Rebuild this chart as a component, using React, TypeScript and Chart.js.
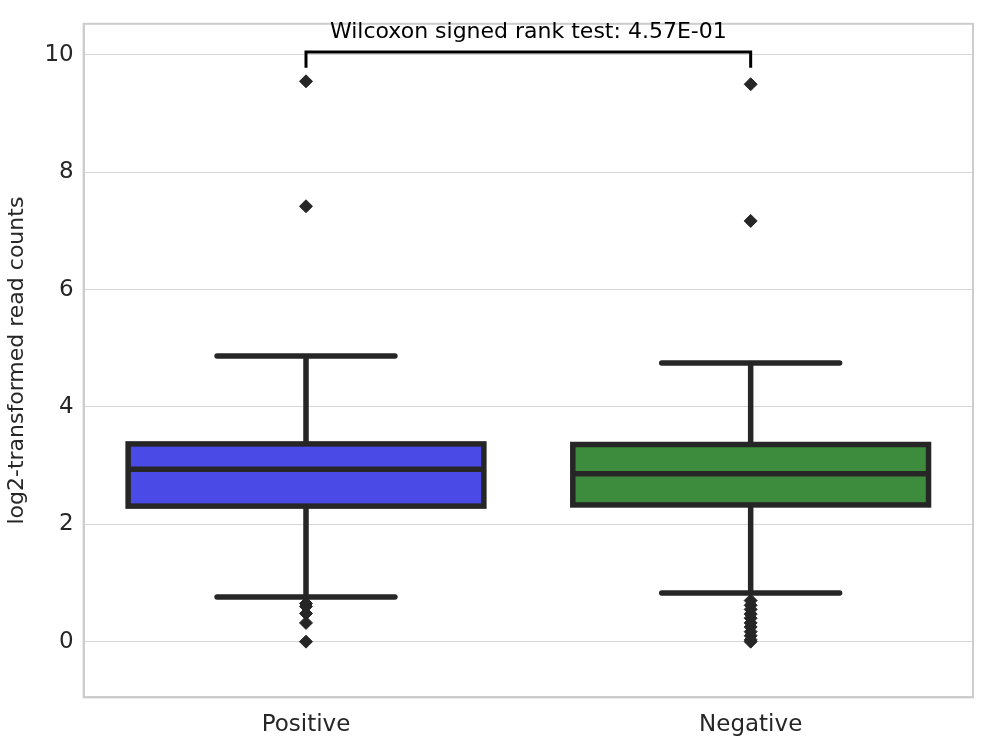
import { useEffect, useRef } from "react";
import { Chart, registerables } from "chart.js";

Chart.register(...registerables);

const groups = ["Positive", "Negative"];
const boxColors = ["#4a4ae6", "#3d8c3d"];
const q1 = [2.31, 2.33];
const median = [2.94, 2.86];
const q3 = [3.37, 3.36];
const whiskerLow = [0.76, 0.83];
const whiskerHigh = [4.87, 4.75];
const outliersPositive = [9.55, 7.42, 0.65, 0.6, 0.48, 0.32, 0.0];
const outliersNegative = [9.5, 7.17, 0.7, 0.62, 0.55, 0.47, 0.4, 0.32, 0.25, 0.17, 0.1, 0.03, 0.0];
const yTicks = [0, 2, 4, 6, 8, 10];
const testLabel = "Wilcoxon signed rank test: 4.57E-01";

const dark = "#262626";

const boxPlugin = {
  id: "boxes",
  beforeDatasetsDraw(chart: Chart) {
    const { ctx, scales } = chart;
    const x = scales.x;
    const y = scales.y;
    ctx.save();
    ctx.strokeStyle = dark;
    ctx.lineWidth = 5.5;
    ctx.lineCap = "round";
    groups.forEach((_, i) => {
      const xl = x.getPixelForValue(i - 0.4);
      const xr = x.getPixelForValue(i + 0.4);
      const xc = x.getPixelForValue(i);
      const cl = x.getPixelForValue(i - 0.2);
      const cr = x.getPixelForValue(i + 0.2);
      // whiskers
      ctx.beginPath();
      ctx.moveTo(xc, y.getPixelForValue(whiskerLow[i]));
      ctx.lineTo(xc, y.getPixelForValue(q1[i]));
      ctx.moveTo(xc, y.getPixelForValue(q3[i]));
      ctx.lineTo(xc, y.getPixelForValue(whiskerHigh[i]));
      ctx.moveTo(cl, y.getPixelForValue(whiskerLow[i]));
      ctx.lineTo(cr, y.getPixelForValue(whiskerLow[i]));
      ctx.moveTo(cl, y.getPixelForValue(whiskerHigh[i]));
      ctx.lineTo(cr, y.getPixelForValue(whiskerHigh[i]));
      ctx.stroke();
      // box
      const top = y.getPixelForValue(q3[i]);
      const bot = y.getPixelForValue(q1[i]);
      ctx.fillStyle = boxColors[i];
      ctx.lineCap = "butt";
      ctx.fillRect(xl, top, xr - xl, bot - top);
      ctx.strokeRect(xl, top, xr - xl, bot - top);
      ctx.beginPath();
      ctx.moveTo(xl, y.getPixelForValue(median[i]));
      ctx.lineTo(xr, y.getPixelForValue(median[i]));
      ctx.stroke();
      ctx.lineCap = "round";
    });
    ctx.restore();
  },
};

const framePlugin = {
  id: "frame",
  afterDraw(c: Chart) {
    const { ctx, chartArea: a, scales } = c;
    const x = scales.x;
    const y = scales.y;
    ctx.save();
    ctx.strokeStyle = "#cccccc";
    ctx.lineWidth = 2;
    ctx.strokeRect(a.left, a.top, a.right - a.left, a.bottom - a.top);
    // significance bracket
    const b0 = x.getPixelForValue(0);
    const b1 = x.getPixelForValue(1);
    const yLow = y.getPixelForValue(9.78);
    const yHigh = y.getPixelForValue(10.05);
    ctx.strokeStyle = "#000";
    ctx.lineWidth = 3;
    ctx.beginPath();
    ctx.moveTo(b0, yLow);
    ctx.lineTo(b0, yHigh);
    ctx.lineTo(b1, yHigh);
    ctx.lineTo(b1, yLow);
    ctx.stroke();
    ctx.fillStyle = "#000";
    ctx.font = "22px 'DejaVu Sans'";
    ctx.textAlign = "center";
    ctx.textBaseline = "bottom";
    ctx.fillText(testLabel, (b0 + b1) / 2, yHigh - 9);
    ctx.restore();
  },
};

export default function App() {
  const canvasRef = useRef<HTMLCanvasElement | null>(null);

  useEffect(() => {
    if (!canvasRef.current) return;
    const chart = new Chart(canvasRef.current, {
      type: "scatter",
      data: {
        datasets: [
          {
            data: outliersPositive.map((v) => ({ x: 0, y: v })),
            pointStyle: "rectRot",
            pointRadius: 6.5,
            backgroundColor: dark,
            borderColor: dark,
          },
          {
            data: outliersNegative.map((v) => ({ x: 1, y: v })),
            pointStyle: "rectRot",
            pointRadius: 6.5,
            backgroundColor: dark,
            borderColor: dark,
          },
        ],
      },
      options: {
        responsive: false,
        animation: false,
        layout: { padding: { top: 11, right: 8, bottom: 0, left: 0 } },
        plugins: { legend: { display: false }, tooltip: { enabled: false } },
        scales: {
          x: {
            type: "linear",
            min: -0.5,
            max: 1.5,
            afterBuildTicks: (axis) => {
              axis.ticks = groups.map((_, i) => ({ value: i }));
            },
            ticks: {
              callback: (v) => groups[Number(v)] ?? "",
              color: dark,
              font: { size: 23, family: "'DejaVu Sans'" },
              padding: 6,
            },
            grid: { display: false },
            border: { color: "#cccccc", width: 2 },
          },
          y: {
            min: -0.95,
            max: 10.53,
            afterBuildTicks: (axis) => {
              axis.ticks = yTicks.map((v) => ({ value: v }));
            },
            ticks: {
              color: dark,
              font: { size: 23, family: "'DejaVu Sans'" },
              padding: 10,
            },
            grid: { color: "#d6d6d6", drawTicks: false },
            border: { color: "#cccccc", width: 2 },
            title: {
              display: true,
              text: "log2-transformed read counts",
              color: dark,
              font: { size: 22, family: "'DejaVu Sans'" },
            },
          },
        },
      },
      plugins: [boxPlugin, framePlugin],
    });
    return () => chart.destroy();
  }, []);

  return (
    <div style={{ position: "absolute", left: 0, top: 0, width: 981, height: 745, background: "#fff" }}>
      <canvas ref={canvasRef} width={981} height={745} />
    </div>
  );
}
